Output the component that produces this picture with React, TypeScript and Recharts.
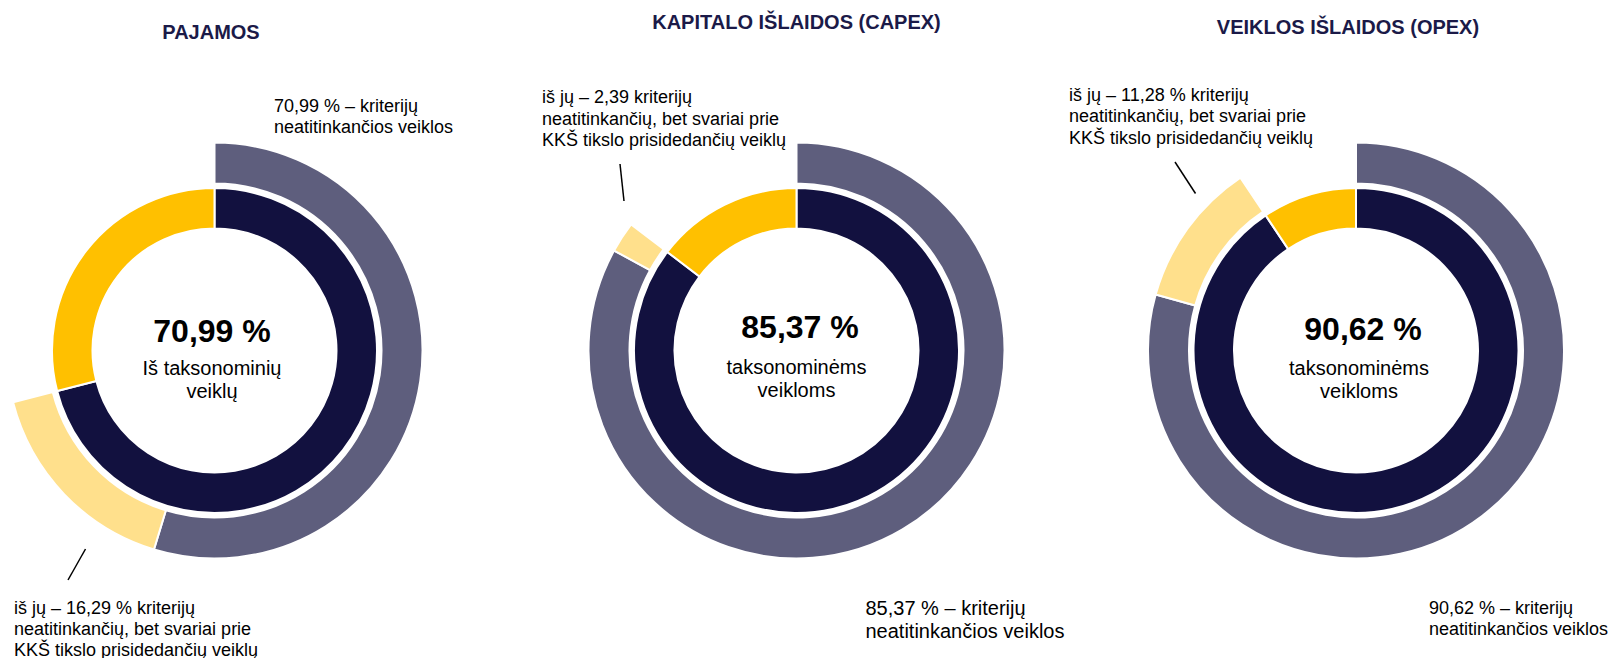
import { PieChart, Pie, Cell } from 'recharts';

// Duomenys (%)
const titles = ['PAJAMOS', 'KAPITALO IŠLAIDOS (CAPEX)', 'VEIKLOS IŠLAIDOS (OPEX)'];
const eligible = [70.99, 85.37, 90.62]; // taksonominės veiklos (vidinis žiedas)
const notEligible = [29.01, 14.63, 9.38]; // netaksonominės (vidinis žiedas)
const nonAligned = [54.7, 82.98, 79.34]; // kriterijų neatitinkančios (išorinis žiedas)
const contributing = [16.29, 2.39, 11.28]; // svariai prisidedančios (išorinis žiedas)
const centerValues = ['70,99 %', '85,37 %', '90,62 %'];
const centerCaptions = [
  ['Iš taksonominių', 'veiklų'],
  ['taksonominėms', 'veikloms'],
  ['taksonominėms', 'veikloms'],
];
const nonAlignedNotes = [
  ['70,99 % – kriterijų', 'neatitinkančios veiklos'],
  ['85,37 % – kriterijų', 'neatitinkančios veiklos'],
  ['90,62 % – kriterijų', 'neatitinkančios veiklos'],
];
const contributingNotes = [
  ['iš jų – 16,29 % kriterijų', 'neatitinkančių, bet svariai prie', 'KKŠ tikslo prisidedančių veiklų'],
  ['iš jų – 2,39 kriterijų', 'neatitinkančių, bet svariai prie', 'KKŠ tikslo prisidedančių veiklų'],
  ['iš jų – 11,28 % kriterijų', 'neatitinkančių, bet svariai prie', 'KKŠ tikslo prisidedančių veiklų'],
];

// Išdėstymas
const W = 1608;
const H = 658;
const FONT = '"Liberation Sans", Arial, Helvetica, sans-serif';
const centers = [
  { x: 214.5, y: 350.5 },
  { x: 796.5, y: 350.5 },
  { x: 1356, y: 350.5 },
];
const titlePos = [
  { x: 211, y: 39 },
  { x: 796.5, y: 28.5 },
  { x: 1348, y: 33.5 },
];
const valuePos = [
  { x: 212, y: 342 },
  { x: 800, y: 338 },
  { x: 1363, y: 339.5 },
];
const captionPos = [
  { x: 212, y: 375 },
  { x: 796.5, y: 373.5 },
  { x: 1359, y: 375 },
];
const notePos = [
  { x: 274, y: 112, size: 18, lh: 21 },
  { x: 865.5, y: 615, size: 20, lh: 22.5 },
  { x: 1429, y: 613.5, size: 18, lh: 21 },
];
const contribNotePos = [
  { x: 14, y: 613.5, size: 18, lh: 21 },
  { x: 542, y: 103, size: 18, lh: 21.5 },
  { x: 1069, y: 101, size: 18, lh: 21.3 },
];
const leaders = [
  { x1: 85.5, y1: 549, x2: 68, y2: 580 },
  { x1: 620, y1: 164, x2: 624, y2: 201 },
  { x1: 1175, y1: 162, x2: 1195.5, y2: 193.5 },
];

const DARK = '#12113f';
const YELLOW = '#ffc000';
const GREY = '#5e5e7d';
const LIGHT = '#ffe08c';

export default function App() {
  return (
    <div style={{ position: 'absolute', left: 0, top: 0, width: W, height: H, background: '#fff' }}>
      <PieChart width={W} height={H} margin={{ top: 0, right: 0, bottom: 0, left: 0 }}>
        {titles.map((_, i) => {
          const inner = [
            { name: 'taksonominės', value: eligible[i] },
            { name: 'netaksonominės', value: notEligible[i] },
          ];
          const outer = [
            { name: 'neatitinkančios', value: nonAligned[i] },
            { name: 'prisidedančios', value: contributing[i] },
            { name: 'tuščia', value: notEligible[i] },
          ];
          return [
            <Pie
              key={`in-${i}`}
              data={inner}
              dataKey="value"
              cx={centers[i].x}
              cy={centers[i].y}
              innerRadius={122}
              outerRadius={162.5}
              startAngle={90}
              endAngle={-270}
              stroke="#fff"
              strokeWidth={2}
              isAnimationActive={false}
            >
              <Cell fill={DARK} />
              <Cell fill={YELLOW} />
            </Pie>,
            <Pie
              key={`out-${i}`}
              data={outer}
              dataKey="value"
              cx={centers[i].x}
              cy={centers[i].y}
              innerRadius={167}
              outerRadius={208}
              startAngle={90}
              endAngle={-270}
              stroke="#fff"
              strokeWidth={2}
              isAnimationActive={false}
            >
              <Cell fill={GREY} />
              <Cell fill={LIGHT} />
              <Cell fill="none" stroke="none" />
            </Pie>,
          ];
        })}
      </PieChart>
      <svg
        width={W}
        height={H}
        style={{ position: 'absolute', left: 0, top: 0, pointerEvents: 'none' }}
        fontFamily={FONT}
      >
        {titles.map((t, i) => (
          <g key={i}>
            <text x={titlePos[i].x} y={titlePos[i].y} textAnchor="middle" fontSize={20} fontWeight="bold" fill="#1b1a48">
              {t}
            </text>
            <text x={valuePos[i].x} y={valuePos[i].y} textAnchor="middle" fontSize={32} fontWeight="bold" fill="#000">
              {centerValues[i]}
            </text>
            {centerCaptions[i].map((line, j) => (
              <text key={j} x={captionPos[i].x} y={captionPos[i].y + j * 23.3} textAnchor="middle" fontSize={20} fill="#000">
                {line}
              </text>
            ))}
            {nonAlignedNotes[i].map((line, j) => (
              <text key={`n${j}`} x={notePos[i].x} y={notePos[i].y + j * notePos[i].lh} fontSize={notePos[i].size} fill="#000">
                {line}
              </text>
            ))}
            {contributingNotes[i].map((line, j) => (
              <text key={`c${j}`} x={contribNotePos[i].x} y={contribNotePos[i].y + j * contribNotePos[i].lh} fontSize={contribNotePos[i].size} fill="#000">
                {line}
              </text>
            ))}
            <line x1={leaders[i].x1} y1={leaders[i].y1} x2={leaders[i].x2} y2={leaders[i].y2} stroke="#000" strokeWidth={1.5} />
          </g>
        ))}
      </svg>
    </div>
  );
}
